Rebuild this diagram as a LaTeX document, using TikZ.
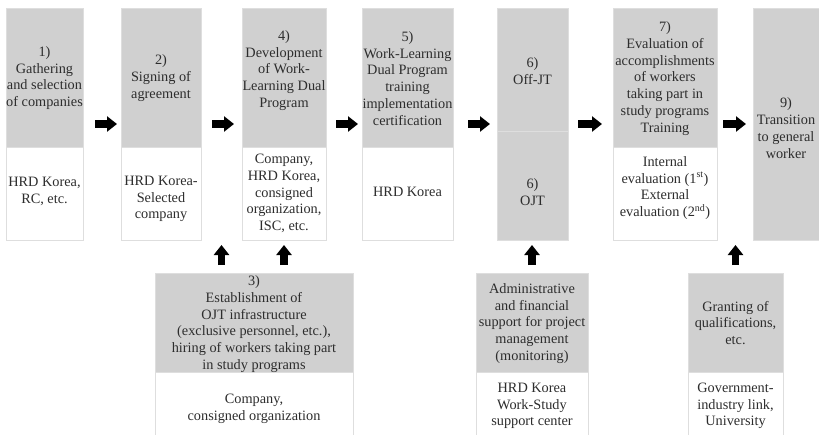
\documentclass[tikz,border=0pt]{standalone}
\usepackage{fontspec}
\setmainfont{Liberation Serif}
\usetikzlibrary{arrows.meta,calc}
\definecolor{headgray}{RGB}{208,208,208}
\definecolor{boxline}{RGB}{222,222,222}
\definecolor{ink}{RGB}{45,45,45}
\newcommand\txtfont{\fontsize{14.3}{16.8}\selectfont}
\tikzset{
  box/.style={draw=boxline, line width=0.7pt, inner sep=0pt, outer sep=0pt, anchor=north west},
  colbox/.style={box, fill=white},
  headbox/.style={box, fill=headgray},
  txt/.style={align=center, font=\txtfont, text=ink, inner sep=0pt},
  flow/.style={-{Triangle[width=15pt,length=10pt]}, line width=7.5pt, draw=black, line cap=butt},
}
\begin{document}
\begin{tikzpicture}[x=1pt, y=-1pt]
\useasboundingbox (0,0) rectangle (819,434);
\clip (0,0) rectangle (819,434);

% upper row: whole columns and their shaded headers
\node[colbox, minimum width=77pt, minimum height=232pt] (c1) at (6,8) {};
\node[headbox, minimum width=77pt, minimum height=139pt] (h1) at (6,8) {};
\node[colbox, minimum width=80pt, minimum height=232pt] (c2) at (121,8) {};
\node[headbox, minimum width=80pt, minimum height=139pt] (h2) at (121,8) {};
\node[colbox, minimum width=84pt, minimum height=232pt] (c4) at (242,8) {};
\node[headbox, minimum width=84pt, minimum height=139pt] (h4) at (242,8) {};
\node[colbox, minimum width=91pt, minimum height=232pt] (c5) at (362,8) {};
\node[headbox, minimum width=91pt, minimum height=139pt] (h5) at (362,8) {};
\node[colbox, minimum width=71pt, minimum height=232pt] (c6) at (497,8) {};
\node[headbox, minimum width=71pt, minimum height=123pt] (h6a) at (497,8) {};
\node[headbox, minimum width=71pt, minimum height=109pt] (h6b) at (497,131) {};
\node[colbox, minimum width=104pt, minimum height=232pt] (c7) at (613,8) {};
\node[headbox, minimum width=104pt, minimum height=139pt] (h7) at (613,8) {};
\node[headbox, minimum width=70pt, minimum height=232pt] (c9) at (753,8) {};

% lower row: supporting activities
\node[colbox, minimum width=198pt, minimum height=170pt] (c3) at (155,273) {};
\node[headbox, minimum width=198pt, minimum height=99pt] (h3) at (155,273) {};
\node[colbox, minimum width=112pt, minimum height=170pt] (ca) at (476,273) {};
\node[headbox, minimum width=112pt, minimum height=99pt] (ha) at (476,273) {};
\node[colbox, minimum width=95pt, minimum height=170pt] (cg) at (688,273) {};
\node[headbox, minimum width=95pt, minimum height=99pt] (hg) at (688,273) {};

% texts
\node[txt] (t1) at (44.5,78) {1)\\Gathering\\and selection\\of companies};
\node[txt] (f1) at (44.5,191.5) {HRD Korea,\\RC, etc.};
\node[txt] (t2) at (161,78) {2)\\Signing of\\agreement};
\node[txt] (f2) at (161,199) {HRD Korea-\\Selected\\company};
\node[txt] (t4) at (284,70.5) {4)\\Development\\of Work-\\Learning Dual\\Program};
\node[txt] (f4) at (284,193.5) {Company,\\HRD Korea,\\consigned\\organization,\\ISC, etc.};
\node[txt] (t5) at (407.5,78.5) {5)\\Work-Learning\\Dual Program\\training\\implementation\\certification};
\node[txt] (f5) at (407.5,192) {HRD Korea};
\node[txt] (t6a) at (532.5,71) {6)\\Off-JT};
\node[txt] (t6b) at (532.5,192.5) {6)\\OJT};
\node[txt] (t7) at (665,78.5) {7)\\Evaluation of\\accomplishments\\of workers\\taking part in\\study programs\\Training};
\node[txt] (f7) at (665,188) {Internal\\evaluation (1\textsuperscript{st})\\External\\evaluation (2\textsuperscript{nd})};
\node[txt] (t9) at (786,128) {9)\\Transition\\to general\\worker};
\node[txt] (t3) at (254,324) {3)\\Establishment of\\OJT infrastructure\\(exclusive personnel, etc.),\\hiring of workers taking part\\in study programs};
\node[txt] (f3) at (254,408.5) {Company,\\consigned organization};
\node[txt] (ta) at (532,323.5) {Administrative\\and financial\\support for project\\management\\(monitoring)};
\node[txt] (fa) at (532,406) {HRD Korea\\Work-Study\\support center};
\node[txt] (tg) at (735.5,323) {Granting of\\qualifications,\\etc.};
\node[txt] (fg) at (735.5,406) {Government-\\industry link,\\University};

% main sequence
\draw[flow, shorten <=12pt, shorten >=4pt] (c1.east) -- (c2.west);
\draw[flow, shorten <=11pt, shorten >=8pt] (c2.east) -- (c4.west);
\draw[flow, shorten <=10pt, shorten >=4pt] (c4.east) -- (c5.west);
\draw[flow, shorten <=15pt, shorten >=7pt] (c5.east) -- (c6.west);
\draw[flow, shorten <=10pt, shorten >=11pt] (c6.east) -- (c7.west);
\draw[flow, shorten <=6pt, shorten >=7pt] (c7.east) -- (c9.west);

% support inputs
\coordinate (gap24) at ($(c2.south east)!0.5!(c4.south west)$);
\draw[flow, shorten <=8pt, shorten >=5pt] (c3.north -| gap24) -- (gap24);
\draw[flow, shorten <=8pt, shorten >=5pt] (c3.north -| c4.south) -- (c4.south);
\draw[flow, shorten <=8pt, shorten >=5pt] (ca.north) -- (ca.north |- c6.south);
\draw[flow, shorten <=8pt, shorten >=5pt] (cg.north) -- (cg.north |- c7.south);
\end{tikzpicture}
\end{document}
